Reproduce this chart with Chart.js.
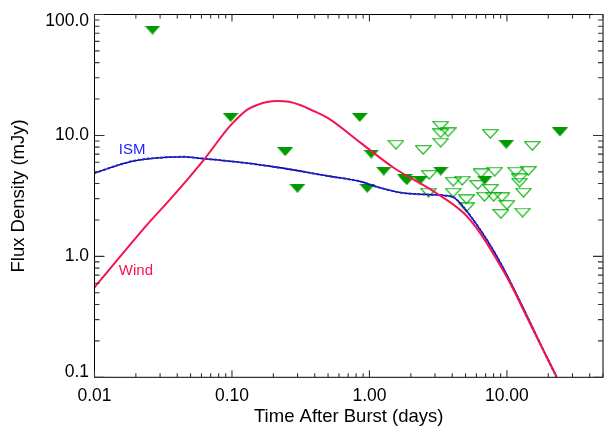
<!DOCTYPE html>
<html>
<head>
<meta charset="utf-8">
<script src="https://cdn.jsdelivr.net/npm/chart.js@4.4.1/dist/chart.umd.min.js"></script>
<style>
  html, body { margin: 0; padding: 0; background: #fff; overflow: hidden; }
  #wrap { width: 612px; height: 428px; position: relative; }
</style>
</head>
<body>
<div id="wrap"><canvas id="c" width="612" height="428"></canvas></div>
<script>
// ---------- data ----------
const windT    = [0.01, 0.0259, 0.0351, 0.0628, 0.0951, 0.112, 0.13, 0.155, 0.18, 0.212, 0.26, 0.32, 0.38, 0.50, 0.873, 1.52, 2.96, 4.87, 6.41, 8.47, 10.57, 14.7, 22.96];
const windFlux = [0.555, 2.0, 2.92, 6.35, 11.7, 14.2, 16.4, 18.0, 18.9, 19.3, 19.0, 17.7, 16.2, 13.9, 8.6, 5.35, 3.42, 2.27, 1.55, 0.933, 0.599, 0.28, 0.101];

const ismT    = [0.01, 0.019, 0.0332, 0.045, 0.06, 0.1, 0.2, 0.5, 0.873, 1.12, 1.70, 2.5, 4.01, 4.5, 5.14, 6.79, 8.47, 10.57, 13.9, 18.4, 22.96];
const ismFlux = [4.89, 6.14, 6.6, 6.65, 6.45, 6.1, 5.51, 4.62, 4.14, 3.77, 3.36, 3.25, 3.11, 2.81, 2.34, 1.50, 0.994, 0.617, 0.327, 0.168, 0.101];

const filledT    = [0.0264, 0.0978, 0.244, 0.2996, 0.850, 1.03, 0.964, 1.27, 1.81, 1.87, 2.34, 3.30, 6.90, 9.89, 24.3];
const filledFlux = [74.4, 14.1, 7.34, 3.65, 14.1, 7.02, 3.65, 5.08, 4.42, 4.22, 4.28, 5.08, 4.28, 8.45, 10.7];

const openT    = [3.30, 3.30, 3.73, 3.30, 1.56, 2.46, 7.58, 15.3, 2.72, 4.07, 4.73, 6.49, 8.15, 11.6, 14.3, 12.3, 6.14, 7.58, 12.35, 2.69, 4.07, 5.08, 6.86, 8.02, 9.20, 13.2, 5.08, 10.0, 9.05, 13.0];
const openFlux = [12.0, 10.4, 10.6, 8.71, 8.38, 7.58, 10.3, 8.18, 4.71, 4.14, 4.22, 4.86, 5.01, 5.01, 5.08, 4.42, 3.89, 3.61, 4.07, 3.36, 3.36, 2.96, 3.11, 3.11, 3.08, 3.36, 2.54, 2.66, 2.24, 2.30];

const xTickVals   = [0.01, 0.1, 1, 10];
const xTickLabels = ['0.01', '0.10', '1.00', '10.00'];
const yTickVals   = [0.1, 1, 10, 100];
const yTickLabels = ['0.1', '1.0', '10.0', '100.0'];

const xTitle = 'Time After Burst (days)';
const yTitle = 'Flux Density (mJy)';

// ---------- styles ----------
const WIND_COLOR = 'rgb(245,20,80)';
const ISM_BLUE = 'rgb(30,30,255)';
const GREEN_FILL = 'rgb(0,155,0)';
const GREEN_LINE = 'rgb(0,175,0)';
const FONT = "'Liberation Sans', Arial, Helvetica, sans-serif";
const TICK_FONT_SIZE = 17.5;

const curveLabels = [
  { text: 'ISM',  t: 0.01503, f: 7.58, color: ISM_BLUE },
  { text: 'Wind', t: 0.01503, f: 0.761, color: WIND_COLOR }
];

function zip(xs, ys) { return xs.map((x, i) => ({ x: x, y: ys[i] })); }

function triFilled() {
  const c = document.createElement('canvas');
  c.width = 16; c.height = 9;
  const g = c.getContext('2d');
  g.fillStyle = GREEN_FILL;
  g.beginPath();
  g.moveTo(0, 0); g.lineTo(16, 0); g.lineTo(8, 9); g.closePath();
  g.fill();
  return c;
}
function triOpen() {
  const c = document.createElement('canvas');
  c.width = 17; c.height = 10;
  const g = c.getContext('2d');
  g.strokeStyle = GREEN_LINE;
  g.lineWidth = 1.1;
  g.lineJoin = 'miter';
  g.beginPath();
  g.moveTo(0.8, 0.8); g.lineTo(16.2, 0.8); g.lineTo(8.5, 9.2); g.closePath();
  g.stroke();
  return c;
}

const boxPlugin = {
  id: 'box',
  afterDatasetsDraw(chart) {
    const { ctx, chartArea: a, scales } = chart;
    const xs = scales.x, ys = scales.y;
    ctx.save();
    ctx.strokeStyle = '#000';
    ctx.lineWidth = 1;
    ctx.strokeRect(a.left, a.top, a.right - a.left, a.bottom - a.top);
    ctx.strokeStyle = '#333';
    ctx.lineWidth = 1.1;
    ctx.beginPath();
    for (const d of [0.01, 0.1, 1, 10]) {
      for (let k = 1; k <= 9; k++) {
        const v = d * k;
        if (v > xs.max) continue;
        const px = xs.getPixelForValue(v);
        const len = k === 1 ? 7 : 4;
        ctx.moveTo(px, a.bottom); ctx.lineTo(px, a.bottom - len);
        ctx.moveTo(px, a.top); ctx.lineTo(px, a.top + len);
      }
    }
    for (const d of [0.1, 1, 10, 100]) {
      for (let k = 1; k <= 9; k++) {
        const v = d * k;
        if (v > ys.max) continue;
        const py = ys.getPixelForValue(v);
        const len = k === 1 ? 10 : 5;
        ctx.moveTo(a.left, py); ctx.lineTo(a.left + len, py);
        ctx.moveTo(a.right, py); ctx.lineTo(a.right - len, py);
      }
    }
    ctx.stroke();
    // y tick labels (edge labels nudged inward, as in the reference)
    ctx.fillStyle = '#000';
    ctx.font = TICK_FONT_SIZE + 'px ' + FONT;
    ctx.textAlign = 'right';
    ctx.textBaseline = 'middle';
    yTickVals.forEach((v, i) => {
      let py = ys.getPixelForValue(v);
      if (i === 0) py -= 5.6;
      if (i === yTickVals.length - 1) py += 6.3;
      ctx.fillText(yTickLabels[i], a.left - 5.5, py);
    });
    // curve labels
    ctx.font = '15px ' + FONT;
    ctx.textAlign = 'left';
    for (const l of curveLabels) {
      ctx.fillStyle = l.color;
      ctx.fillText(l.text, xs.getPixelForValue(l.t), ys.getPixelForValue(l.f));
    }
    ctx.restore();
  }
};

new Chart(document.getElementById('c'), {
  type: 'scatter',
  data: {
    datasets: [
      { label: 'Wind', type: 'line', data: zip(windT, windFlux), borderColor: WIND_COLOR, borderWidth: 2,
        pointRadius: 0, cubicInterpolationMode: 'monotone', fill: false, order: 0 },
      { label: 'ISM dots', type: 'line', data: zip(ismT, ismFlux), borderColor: ISM_BLUE, borderWidth: 2,
        borderDash: [3, 1.5], pointRadius: 0, cubicInterpolationMode: 'monotone', fill: false, order: 1 },
      { label: 'ISM', type: 'line', data: zip(ismT, ismFlux), borderColor: '#000', borderWidth: 1.3,
        pointRadius: 0, cubicInterpolationMode: 'monotone', fill: false, order: 2 },
      { label: 'Filled', data: zip(filledT, filledFlux), pointStyle: triFilled(), pointRadius: 8, order: 3 },
      { label: 'Open', data: zip(openT, openFlux), pointStyle: triOpen(), pointRadius: 8, order: 4 }
    ]
  },
  options: {
    responsive: false,
    animation: false,
    events: [],
    layout: { padding: { top: 14.5, right: 5.2, left: 0, bottom: 0 } },
    plugins: { legend: { display: false }, tooltip: { enabled: false } },
    scales: {
      x: {
        type: 'logarithmic', min: 0.01, max: 50,
        afterBuildTicks(s) { s.ticks = xTickVals.map(v => ({ value: v })); },
        afterFit(s) { s.height = 50.7; },
        grid: { display: false, drawTicks: false },
        border: { display: false },
        ticks: { autoSkip: false, maxRotation: 0, padding: 8.2, color: '#000',
                 font: { family: FONT, size: TICK_FONT_SIZE },
                 callback: (v, i) => xTickLabels[i] },
        title: { display: true, text: xTitle, color: '#000', font: { family: FONT, size: 18.5 },
                 padding: { top: 1.4, bottom: 0 } }
      },
      y: {
        type: 'logarithmic', min: 0.1, max: 100,
        afterBuildTicks(s) { s.ticks = yTickVals.map(v => ({ value: v })); },
        afterFit(s) { s.width = 94.5; },
        grid: { display: false, drawTicks: false },
        border: { display: false },
        ticks: { display: false },
        title: { display: true, text: yTitle, color: '#000', font: { family: FONT, size: 18.5 },
                 padding: { top: 7.9, bottom: 0 } }
      }
    }
  },
  plugins: [boxPlugin]
});
</script>
</body>
</html>
